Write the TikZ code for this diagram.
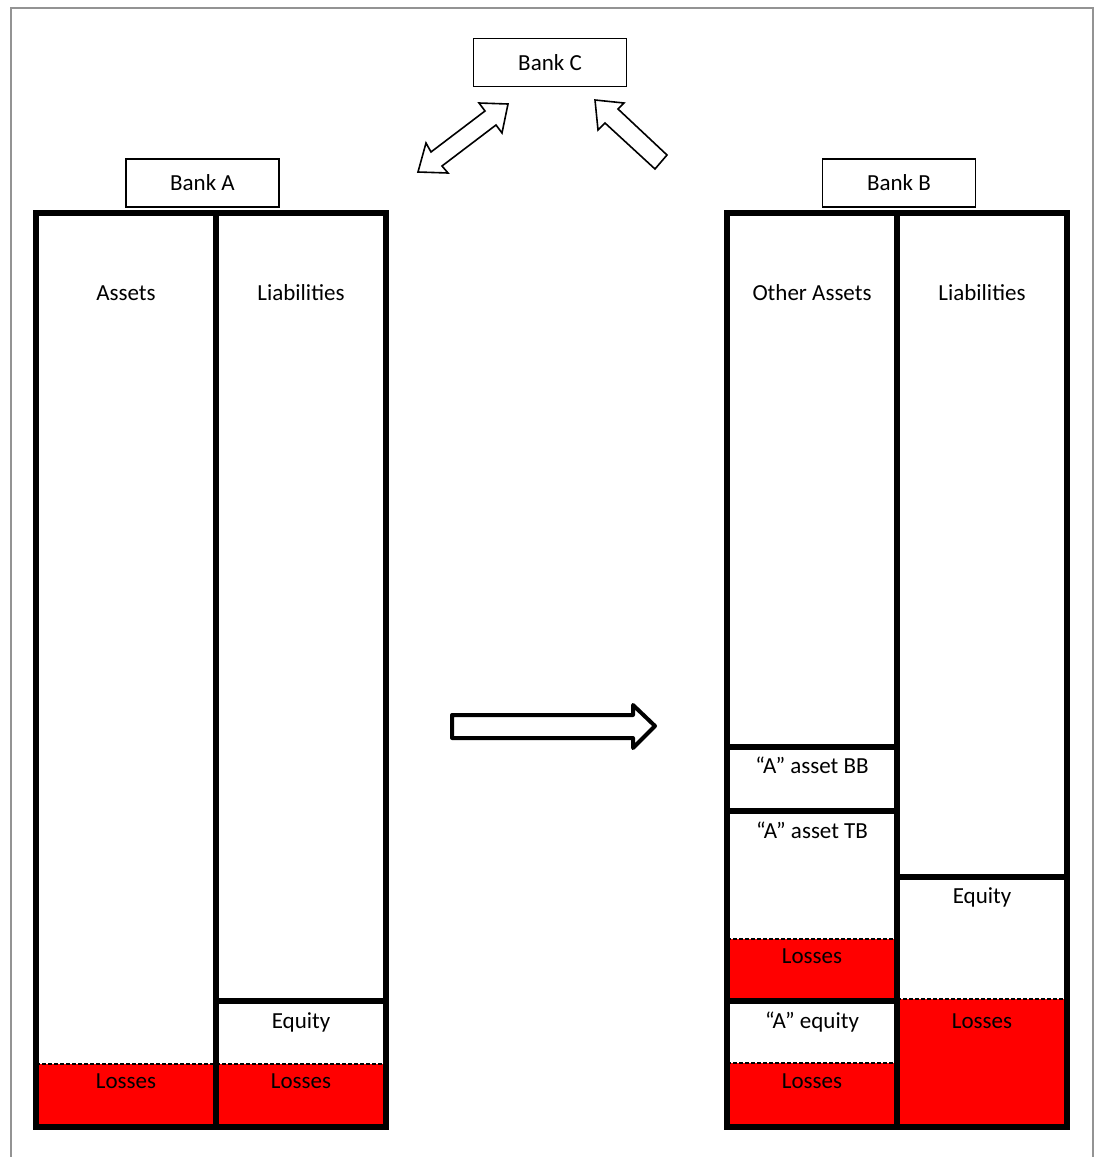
\documentclass[tikz,border=0pt]{standalone}
\usepackage{fontspec}
\setmainfont{Carlito}
\begin{document}
\begin{tikzpicture}[x=1pt,y=-1pt,
  lbl/.style={anchor=base, font=\fontsize{23}{27}\selectfont, inner sep=0pt},
  bankbox/.style={draw, line width=1.2pt, minimum width=153pt, minimum height=48pt, inner sep=0pt, font=\fontsize{23}{27}\selectfont},
  heavy/.style={line width=6pt, line cap=rect, line join=miter},
  lossfill/.style={fill=red},
  lossline/.style={dash pattern=on 4pt off 2pt, line width=1.3pt},
  hollow/.style={draw, fill=white, line width=1.6pt, line join=miter},
  bighollow/.style={draw, fill=white, line width=4pt, line join=round}]
\useasboundingbox (0,0) rectangle (1099,1157);
% frame
\draw[gray!85, line width=1.5pt] (11,1160)--(11,8)--(1093,8)--(1093,1160);
% bank boxes
\node[bankbox] (bankC) at (550,62.5) {Bank C};
\node[bankbox] (bankA) at (202.5,183) {Bank A};
\node[bankbox] (bankB) at (899,183) {Bank B};
% ---- Bank A balance sheet
\fill[lossfill] (36,1064) rectangle (386,1127);
\draw[lossline] (36,1064)--(386,1064);
\draw[heavy] (36,213) rectangle (386,1127);
\draw[heavy] (216,213)--(216,1127);
\draw[heavy] (216,1001)--(386,1001);
\node[lbl] (aAssets) at (126,300) {Assets};
\node[lbl] (aLiab) at (301,300) {Liabilities};
\node[lbl] (aEq) at (301,1028) {Equity};
\node[lbl] (aLossL) at (126,1088) {Losses};
\node[lbl] (aLossR) at (301,1088) {Losses};
% ---- Bank B balance sheet
\fill[lossfill] (727,939) rectangle (897,1001);
\fill[lossfill] (727,1063) rectangle (897,1127);
\fill[lossfill] (897,999) rectangle (1067,1127);
\draw[lossline] (727,939)--(897,939);
\draw[lossline] (727,1063)--(897,1063);
\draw[lossline] (897,999)--(1067,999);
\draw[heavy] (727,213) rectangle (1067,1127);
\draw[heavy] (897,213)--(897,1127);
\draw[heavy] (727,747)--(897,747);
\draw[heavy] (727,811)--(897,811);
\draw[heavy] (727,1001)--(897,1001);
\draw[heavy] (897,877)--(1067,877);
\node[lbl] (bOther) at (812,300) {Other Assets};
\node[lbl] (bLiab) at (982,300) {Liabilities};
\node[lbl] (bBB) at (812,773) {“A” asset BB};
\node[lbl] (bTB) at (812,838) {“A” asset TB};
\node[lbl] (bEq) at (982,903) {Equity};
\node[lbl] (bLoss1) at (812,963) {Losses};
\node[lbl] (bAeq) at (812,1028) {“A” equity};
\node[lbl] (bLoss2) at (812,1088) {Losses};
\node[lbl] (bLoss3) at (982,1028) {Losses};
% ---- block arrows
\draw[bighollow] (452,715)--(633,715)--(633,705)--(655,726)--(633,748)--(633,738)--(452,738)--cycle;
\draw[hollow] (418,172)--(426,143)--(431,152)--(485,111)--(479,103)--(508,104)--(502,133)--(496,125)--(442,166)--(448,173)--cycle;
\draw[hollow] (595,100)--(624,103)--(618,109)--(667,155)--(655,169)--(605,123)--(598,130)--cycle;
\end{tikzpicture}
\end{document}
